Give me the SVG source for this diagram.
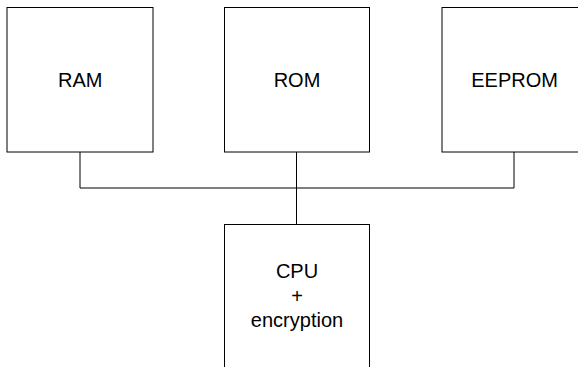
<svg xmlns="http://www.w3.org/2000/svg" width="578" height="367" viewBox="0 0 578 367">
  <style>
    .box { fill: #ffffff; stroke: #000000; stroke-width: 1; }
    .lbl { font-family: "Liberation Sans", Arial, sans-serif; font-size: 20px; fill: #000000; text-anchor: middle; }
    .wire { fill: none; stroke: #000000; stroke-width: 1; }
  </style>
  <rect width="578" height="367" fill="#ffffff"/>
  <g id="connectors">
    <!-- bus joining the three memories -->
    <polyline class="wire" points="80,152 80,188 514,188 514,152"/>
    <!-- drop from ROM through the bus to the CPU -->
    <line class="wire" x1="296.5" y1="152" x2="296.5" y2="224.5"/>
  </g>
  <g id="ram">
    <rect class="box" x="7" y="7.5" width="146" height="144.5"/>
    <text class="lbl" x="80.3" y="86.5">RAM</text>
  </g>
  <g id="rom">
    <rect class="box" x="224.5" y="7.5" width="145" height="144.5"/>
    <text class="lbl" x="297" y="86.5">ROM</text>
  </g>
  <g id="eeprom">
    <rect class="box" x="442" y="7.5" width="146" height="144.5"/>
    <text class="lbl" x="514.6" y="86.5">EEPROM</text>
  </g>
  <g id="cpu">
    <rect class="box" x="224.5" y="224.5" width="145" height="160"/>
    <text class="lbl" x="297" y="278">CPU</text>
    <text class="lbl" x="297" y="302.5">+</text>
    <text class="lbl" x="297" y="327">encryption</text>
  </g>
</svg>
